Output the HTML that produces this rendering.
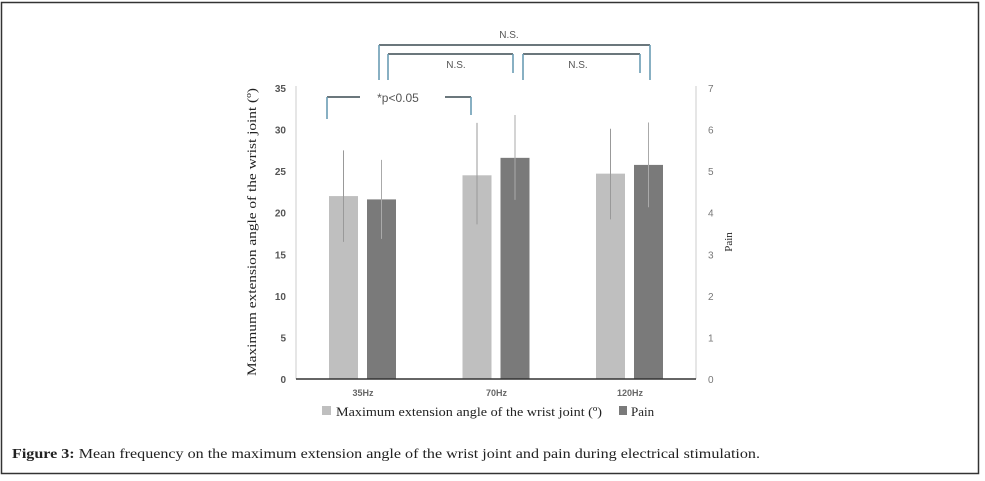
<!DOCTYPE html>
<html><head><meta charset="utf-8"><style>
body{margin:0;width:985px;height:481px;background:#fff;overflow:hidden;}
svg{display:block}
</style></head><body>
<svg width="985" height="481" xmlns="http://www.w3.org/2000/svg">
<rect x="1.5" y="2.5" width="977" height="471" fill="none" stroke="#333" stroke-width="1.5"/>
<g id="chart"></g>
<text x="12" y="458" font-family="Liberation Serif, serif" font-size="14" fill="#222" textLength="748" lengthAdjust="spacingAndGlyphs"><tspan font-weight="bold">Figure 3:</tspan> Mean frequency on the maximum extension angle of the wrist joint and pain during electrical stimulation.</text>
</svg>
<script>
const categories = ['35Hz','70Hz','120Hz'];
const angleValues = [22, 24.5, 24.7];
const angleErrHi = [27.5, 30.8, 30.1];
const angleErrLo = [16.5, 18.6, 19.2];
const painValues = [4.32, 5.32, 5.15];
const painErrHi = [5.27, 6.35, 6.17];
const painErrLo = [3.37, 4.31, 4.13];
const leftTicks = [0,5,10,15,20,25,30,35];
const rightTicks = [0,1,2,3,4,5,6,7];

const NS='http://www.w3.org/2000/svg';
const g=document.getElementById('chart');
const x0=296,x1=696,yTop=88,yBot=379;
const yL=v=>yBot-(v/35)*(yBot-yTop);
const yR=v=>yBot-(v/7)*(yBot-yTop);
const catCenter=i=>363+i*133.5;
function mk(tag,attrs,text){const e=document.createElementNS(NS,tag);for(const k in attrs)e.setAttribute(k,attrs[k]);if(text!==undefined)e.textContent=text;g.appendChild(e);return e;}

let e=mk('line',{x1:x0,y1:yTop-2,x2:x0,y2:yBot,stroke:'#ccc','stroke-width':1});


e=mk('line',{x1:x1,y1:yTop-2,x2:x1,y2:yBot,stroke:'#ccc','stroke-width':1});


leftTicks.forEach(t=>{const el=mk('text',{x:x0-10,y:yL(t)+4,'text-anchor':'end','font-family':'Liberation Sans, sans-serif','font-size':10,'font-weight':'bold',fill:'#555'},t);

});
rightTicks.forEach(t=>{const el=mk('text',{x:x1+12,y:yR(t)+4,'text-anchor':'start','font-family':'Liberation Sans, sans-serif','font-size':10,fill:'#777'},t);

});

categories.forEach((c,i)=>{
  const cx=catCenter(i);
  const lx=cx-34,dx=cx+4,w=29;
  let b=mk('rect',{x:lx,y:yL(angleValues[i]),width:w,height:yBot-yL(angleValues[i]),fill:'#bfbfbf'});
  
  
  b=mk('rect',{x:dx,y:yR(painValues[i]),width:w,height:yBot-yR(painValues[i]),fill:'#7a7a7a'});
  
  
  let l=mk('line',{x1:lx+w/2,x2:lx+w/2,y1:yL(angleErrHi[i]),y2:yL(angleErrLo[i]),stroke:'#999','stroke-width':1});
  
  
  l=mk('line',{x1:dx+w/2,x2:dx+w/2,y1:yR(painErrHi[i]),y2:yR(painErrLo[i]),stroke:'#aaa','stroke-width':1});
  
  
  const t=mk('text',{x:cx,y:396,'text-anchor':'middle','font-family':'Liberation Sans, sans-serif','font-size':9,'font-weight':'bold',fill:'#666'},c);
  
  
});
e=mk('line',{x1:x0,y1:yBot,x2:x1,y2:yBot,stroke:'#333','stroke-width':1.5});



e=mk('text',{x:0,y:0,transform:'translate(256,232) rotate(-90)','text-anchor':'middle','font-family':'Liberation Serif, serif','font-size':13,fill:'#222',textLength:288,lengthAdjust:'spacingAndGlyphs'},'Maximum extension angle of the wrist joint (º)');


e=mk('text',{x:0,y:0,transform:'translate(732,242) rotate(-90)','text-anchor':'middle','font-family':'Liberation Serif, serif','font-size':11,fill:'#222'},'Pain');



e=mk('rect',{x:322,y:406,width:9,height:9,fill:'#bfbfbf'});


e=mk('text',{x:336,y:416,'font-family':'Liberation Serif, serif','font-size':13,fill:'#222',textLength:266,lengthAdjust:'spacingAndGlyphs'},'Maximum extension angle of the wrist joint (º)');


e=mk('rect',{x:619,y:406,width:8,height:9,fill:'#7a7a7a'});


e=mk('text',{x:631,y:416,'font-family':'Liberation Serif, serif','font-size':13,fill:'#222'},'Pain');



function bracket(name,xa,xb,y,ya,yb,label,lx,ly,gap){
  const blue='#6a9cb4',dark='#3a4a50';
  if(gap){
    mk('line',{x1:xa,y1:y,x2:gap[0],y2:y,stroke:dark,'stroke-width':1.6});
    mk('line',{x1:gap[1],y1:y,x2:xb,y2:y,stroke:dark,'stroke-width':1.6});
  } else mk('line',{x1:xa,y1:y,x2:xb,y2:y,stroke:dark,'stroke-width':1.6});
  mk('line',{x1:xa,y1:y,x2:xa,y2:ya,stroke:blue,'stroke-width':1.6});
  mk('line',{x1:xb,y1:y,x2:xb,y2:yb,stroke:blue,'stroke-width':1.6});
  const t=mk('text',{x:lx,y:ly,'text-anchor':'middle','font-family':'Liberation Sans, sans-serif','font-size':gap?12:10,fill:'#555'},label);
  
  
}
bracket('ns-label-35-120',379,650,45,80,80,'N.S.',509,38);
bracket('ns-label-35-70',388,513,54,80,73,'N.S.',456,68);
bracket('ns-label-70-120',523,640,54,80,73,'N.S.',578,68);
bracket('p-label',327,471,97,119,115,'*p<0.05',398,102,[360,445]);
</script>
</body></html>
